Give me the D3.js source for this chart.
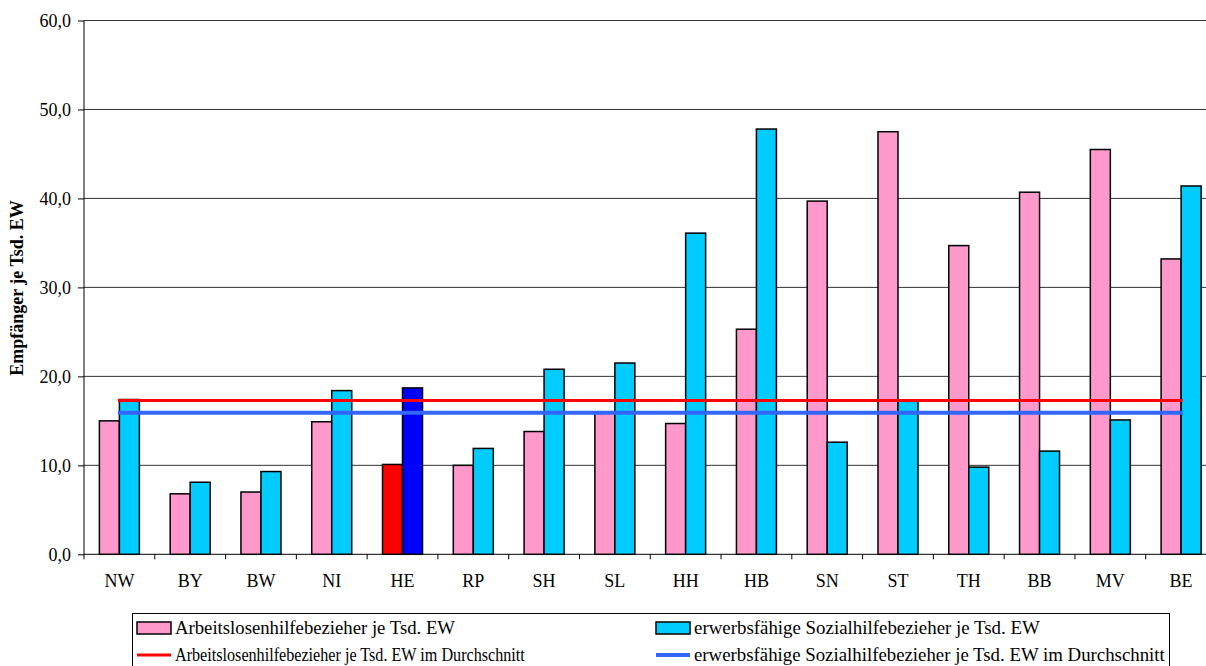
<!DOCTYPE html>
<html>
<head>
<meta charset="utf-8">
<script src="https://cdn.jsdelivr.net/npm/d3@7"></script>
<style>
  body { margin: 0; background: #fff; }
  svg { display: block; font-family: "Liberation Serif", "Times New Roman", serif; }
</style>
</head>
<body>
<svg width="1206" height="666"></svg>
<script>
// Bundesländer
const laender = ['NW','BY','BW','NI','HE','RP','SH','SL','HH','HB','SN','ST','TH','BB','MV','BE'];
// Arbeitslosenhilfebezieher je Tsd. EW
const alhi = [15.0, 6.8, 7.0, 14.9, 10.1, 10.0, 13.8, 16.0, 14.7, 25.3, 39.7, 47.5, 34.7, 40.7, 45.5, 33.2];
// erwerbsfähige Sozialhilfebezieher je Tsd. EW
const sozhi = [17.4, 8.1, 9.3, 18.4, 18.7, 11.9, 20.8, 21.5, 36.1, 47.8, 12.6, 17.2, 9.8, 11.6, 15.1, 41.4];
// Durchschnitt
const avgAlhi = 17.3;
const avgSozhi = 15.9;
const yTicks = [0, 10, 20, 30, 40, 50, 60];
const legendLabels = [
    'Arbeitslosenhilfebezieher je Tsd. EW',
    'erwerbsfähige Sozialhilfebezieher je Tsd. EW',
    'Arbeitslosenhilfebezieher je Tsd. EW im Durchschnitt',
    'erwerbsfähige Sozialhilfebezieher je Tsd. EW im Durchschnitt'
];

const svg = d3.select('svg');

const plotLeft = 84, plotRight = 1216.5, plotTop = 20.5, plotBottom = 554.3;

const x = d3.scaleBand()
    .domain(laender)
    .range([plotLeft, plotRight]);

const step = x.step();
const x1 = d3.scaleBand()
    .domain(['alhi', 'sozhi'])
    .range([step / 2 - 20, step / 2 + 20]);

const y = d3.scaleLinear()
    .domain([0, 60])
    .range([plotBottom, plotTop]);

const fmt = d => d.toFixed(1).replace('.', ',');

// gridlines
svg.append('g')
    .selectAll('line')
    .data(yTicks.slice(1))
    .enter()
    .append('line')
        .attr('x1', plotLeft)
        .attr('x2', 1206)
        .attr('y1', d => y(d))
        .attr('y2', d => y(d))
        .attr('stroke', '#333')
        .attr('stroke-width', 1);

// y axis
const yAxis = svg.append('g')
    .attr('transform', `translate(${plotLeft},0)`)
    .call(d3.axisLeft(y).tickValues(yTicks).tickFormat(fmt).tickSize(6).tickPadding(7));
yAxis.attr('font-family', null).attr('font-size', null);
yAxis.select('.domain').attr('stroke', '#000').attr('d', `M0,${y(0)}V${y(60)}`);
yAxis.selectAll('.tick line').attr('stroke', '#000');
yAxis.selectAll('text')
    .style('font-family', '"Liberation Serif", serif')
    .style('font-size', '18px')
    .attr('fill', '#000');

// x axis: ticks between categories
const xAxis = svg.append('g');
xAxis.append('line')
    .attr('x1', plotLeft).attr('x2', 1206)
    .attr('y1', plotBottom).attr('y2', plotBottom)
    .attr('stroke', '#000');
xAxis.selectAll('line.tk')
    .data(laender)
    .enter()
    .append('line')
        .attr('class', 'tk')
        .attr('x1', d => x(d)).attr('x2', d => x(d))
        .attr('y1', plotBottom).attr('y2', plotBottom + 5)
        .attr('stroke', '#000');
xAxis.selectAll('text')
    .data(laender)
    .enter()
    .append('text')
        .attr('x', d => x(d) + step / 2)
        .attr('y', plotBottom + 33)
        .attr('text-anchor', 'middle')
        .attr('font-size', 18)
        .text(d => d);

// y label
svg.append('text')
    .attr('transform', 'translate(19,288) rotate(-90)')
    .attr('text-anchor', 'middle')
    .attr('dominant-baseline', 'middle')
    .attr('font-size', 18)
    .attr('font-weight', 'bold')
    .text('Empfänger je Tsd. EW');

// bars
const groups = svg.append('g')
    .selectAll('g')
    .data(laender)
    .enter()
    .append('g')
        .attr('transform', d => `translate(${x(d)},0)`);

groups.append('rect')
    .attr('x', x1('alhi'))
    .attr('width', x1.bandwidth())
    .attr('y', (d, i) => y(alhi[i]))
    .attr('height', (d, i) => y(0) - y(alhi[i]))
    .attr('fill', d => d == 'HE' ? '#FF0000' : '#FF99CC')
    .attr('stroke', '#000')
    .attr('stroke-width', 1.5);

groups.append('rect')
    .attr('x', x1('sozhi'))
    .attr('width', x1.bandwidth())
    .attr('y', (d, i) => y(sozhi[i]))
    .attr('height', (d, i) => y(0) - y(sozhi[i]))
    .attr('fill', d => d == 'HE' ? '#0000FF' : '#00CCFF')
    .attr('stroke', '#000')
    .attr('stroke-width', 1.5);

// average lines
const x0 = x(laender[0]) + step / 2 - 1.5;
const xN = x(laender[laender.length - 1]) + step / 2 + 1.5;
svg.append('line')
    .attr('x1', x0).attr('x2', xN)
    .attr('y1', y(avgSozhi)).attr('y2', y(avgSozhi))
    .attr('stroke', '#3366FF')
    .attr('stroke-width', 4);
svg.append('line')
    .attr('x1', x0).attr('x2', xN)
    .attr('y1', y(avgAlhi)).attr('y2', y(avgAlhi))
    .attr('stroke', '#FF0000')
    .attr('stroke-width', 3);

// legend
const legend = svg.append('g');
legend.append('rect')
    .attr('x', 132.5).attr('y', 613.5)
    .attr('width', 1037).attr('height', 60)
    .attr('fill', '#fff')
    .attr('stroke', '#000')
    .attr('stroke-width', 1);

const legendItems = [
    { label: legendLabels[0], type: 'box', color: '#FF99CC', lx: 137, ly: 628 },
    { label: legendLabels[1], type: 'box', color: '#00CCFF', lx: 656, ly: 628 },
    { label: legendLabels[2], type: 'line', color: '#FF0000', lx: 137, ly: 655, w: 3 },
    { label: legendLabels[3], type: 'line', color: '#3366FF', lx: 656, ly: 655, w: 4 }
];
// widths of the condensed legend texts in the picture
const textWidths = [280, 346, 350, 471];

legendItems.forEach((d, i) => {
    if (d.type == 'box') {
        legend.append('rect')
            .attr('x', d.lx).attr('y', d.ly - 6)
            .attr('width', 34).attr('height', 12)
            .attr('fill', d.color)
            .attr('stroke', '#000')
            .attr('stroke-width', 1.5);
    } else {
        legend.append('line')
            .attr('x1', d.lx).attr('x2', d.lx + 34)
            .attr('y1', d.ly).attr('y2', d.ly)
            .attr('stroke', d.color)
            .attr('stroke-width', d.w);
    }
    let t = legend.append('text')
        .attr('x', 0)
        .attr('y', 0)
        .attr('font-size', 18)
        .text(d.label);
    let natural = t.node().getComputedTextLength();
    let sx = textWidths[i] / natural;
    t.attr('transform', `translate(${d.lx + 38},${d.ly + 6}) scale(${sx},1)`);
});
</script>
</body>
</html>
